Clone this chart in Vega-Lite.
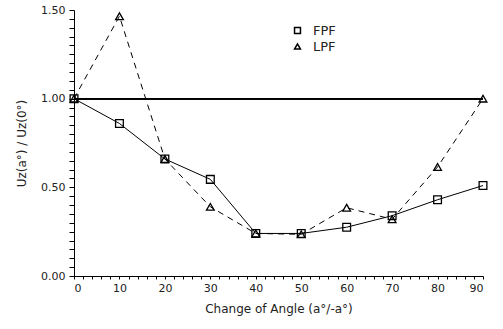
{
  "$schema": "https://vega.github.io/schema/vega-lite/v6.json",
  "width": 409,
  "height": 266,
  "autosize": "none",
  "padding": {"left": 74, "top": 10, "right": 20, "bottom": 53},
  "background": "white",
  "config": {
    "view": {"stroke": null},
    "font": "DejaVu Sans",
    "axis": {"labelFont": "DejaVu Sans", "titleFont": "DejaVu Sans", "labelColor": "#222", "titleColor": "#222", "domainColor": "black", "tickColor": "black", "grid": false, "labelFontSize": 11, "titleFontSize": 12, "titleFontWeight": "normal", "labelOverlap": false, "labelBound": false}
  },
  "data": {
    "values": [
      {"angle": 0, "ratio": 1.0, "series": "FPF"},
      {"angle": 10, "ratio": 0.86, "series": "FPF"},
      {"angle": 20, "ratio": 0.66, "series": "FPF"},
      {"angle": 30, "ratio": 0.545, "series": "FPF"},
      {"angle": 40, "ratio": 0.24, "series": "FPF"},
      {"angle": 50, "ratio": 0.24, "series": "FPF"},
      {"angle": 60, "ratio": 0.275, "series": "FPF"},
      {"angle": 70, "ratio": 0.34, "series": "FPF"},
      {"angle": 80, "ratio": 0.43, "series": "FPF"},
      {"angle": 90, "ratio": 0.51, "series": "FPF"},
      {"angle": 0, "ratio": 1.0, "series": "LPF"},
      {"angle": 10, "ratio": 1.465, "series": "LPF"},
      {"angle": 20, "ratio": 0.66, "series": "LPF"},
      {"angle": 30, "ratio": 0.39, "series": "LPF"},
      {"angle": 40, "ratio": 0.24, "series": "LPF"},
      {"angle": 50, "ratio": 0.235, "series": "LPF"},
      {"angle": 60, "ratio": 0.385, "series": "LPF"},
      {"angle": 70, "ratio": 0.32, "series": "LPF"},
      {"angle": 80, "ratio": 0.615, "series": "LPF"},
      {"angle": 90, "ratio": 1.0, "series": "LPF"}
    ]
  },
  "encoding": {
    "x": {"field": "angle", "type": "quantitative", "scale": {"domain": [0, 90], "nice": false},
      "axis": {"values": [0,2,4,6,8,10,12,14,16,18,20,22,24,26,28,30,32,34,36,38,40,42,44,46,48,50,52,54,56,58,60,62,64,66,68,70,72,74,76,78,80,82,84,86,88,90],
        "labelExpr": "datum.value % 10 === 0 ? datum.value : ''", "tickSize": 3, "labelPadding": 3, "title": "Change of Angle (a°/-a°)", "titlePadding": 10}},
    "y": {"field": "ratio", "type": "quantitative", "scale": {"domain": [0, 1.5], "nice": false},
      "axis": {"values": [0,0.05,0.1,0.15,0.2,0.25,0.3,0.35,0.4,0.45,0.5,0.55,0.6,0.65,0.7,0.75,0.8,0.85,0.9,0.95,1.0,1.05,1.1,1.15,1.2,1.25,1.3,1.35,1.4,1.45,1.5],
        "labelExpr": "abs(datum.value*2 - round(datum.value*2)) < 0.001 ? format(datum.value, '.2f') : ''", "tickSize": 5, "labelPadding": 4, "title": "Uz(a°) / Uz(0°)", "titlePadding": 12}}
  },
  "layer": [
    {
      "mark": {"type": "rule", "color": "black", "strokeWidth": 1},
      "encoding": {"y": {"datum": 1.0, "type": "quantitative"}, "x": {"value": 0}, "x2": {"value": 409}}
    },
    {
      "transform": [{"filter": "datum.series === 'FPF'"}],
      "mark": {"type": "line", "color": "black", "strokeWidth": 1}
    },
    {
      "transform": [{"filter": "datum.series === 'LPF'"}],
      "mark": {"type": "line", "color": "black", "strokeWidth": 1, "strokeDash": [6, 5]}
    },
    {
      "mark": {"type": "point", "filled": false, "color": "black", "strokeWidth": 1.3, "size": 60, "opacity": 1},
      "encoding": {
        "shape": {"field": "series", "type": "nominal", "scale": {"domain": ["FPF", "LPF"], "range": ["square", "triangle-up"]},
          "legend": {"orient": "none", "legendX": 217, "legendY": 14, "title": null, "labelFontSize": 13, "labelColor": "#222", "symbolSize": 35, "labelOffset": 9}}
      }
    }
  ]
}
